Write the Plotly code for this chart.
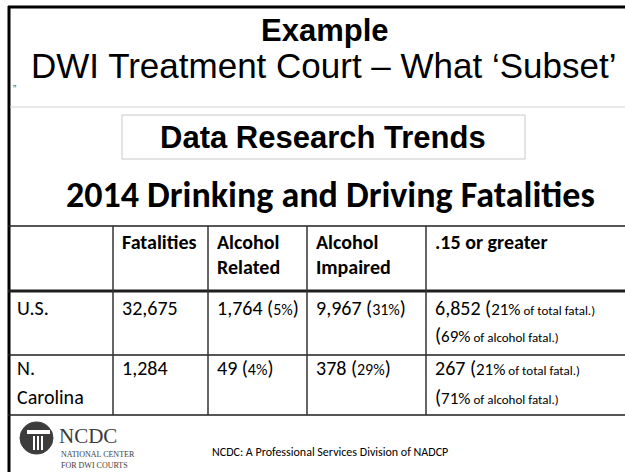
import plotly.graph_objects as go

# ---------------- data ----------------
title_main = "Example"
title_sub = "DWI Treatment Court \u2013 What \u2018Subset\u2019"
box_title = "Data Research Trends"
table_title = "2014 Drinking and Driving Fatalities"
footer_text = "NCDC: A Professional Services Division of NADCP"

header_labels = [[""], ["Fatalities"], ["Alcohol", "Related"], ["Alcohol", "Impaired"], [".15 or greater"]]
regions = [["U.S."], ["N.", "Carolina"]]
fatalities = [32675, 1284]
alcohol_related = [1764, 49]
alcohol_related_pct = [5, 4]
alcohol_impaired = [9967, 378]
alcohol_impaired_pct = [31, 29]
bac15 = [6852, 267]
bac15_pct_total = [21, 21]
bac15_pct_alcohol = [69, 71]

# ---------------- layout constants ----------------
W, H = 625, 472
CAL = "Carlito, Calibri, Lato, sans-serif"
ARI = "Liberation Sans, Arial, sans-serif"
SER = "Liberation Serif, Times New Roman, serif"
BASE = 20      # table body font size
PCT = 16       # percentage size
SMALL = 13     # "of total fatal." size

col_edges = [8, 113, 208, 307, 426, 625]
row_edges = [226, 291, 355, 415]
row_text = [(242, 25), (308, 27), (368, 29)]   # (first line centre, line gap) per table row
row_line_w = [1.5, 3, 1.5, 1.5]


def px(x):
    return x / W


def py(y):
    return 1 - y / H


def sized(t, size):
    return f"<span style='font-size:{size}px'>{t}</span>"


# ---------------- cell texts built from data ----------------
body_rows = []
for i in range(len(fatalities)):
    body_rows.append([
        regions[i],
        [f"{fatalities[i]:,}"],
        [f"{alcohol_related[i]:,} ({sized(str(alcohol_related_pct[i]) + '%', PCT)})"],
        [f"{alcohol_impaired[i]:,} ({sized(str(alcohol_impaired_pct[i]) + '%', PCT)})"],
        [f"{bac15[i]:,} ({sized(str(bac15_pct_total[i]) + '%', PCT + 1)}{sized(' of total fatal.)', SMALL)}",
         f"({sized(str(bac15_pct_alcohol[i]) + '%', PCT + 1)}{sized(' of alcohol fatal.)', SMALL)}"],
    ])
table_rows = [[[f"<b>{t}</b>" for t in cell if t] for cell in header_labels]] + body_rows

shapes = []
annotations = []

# slide frame
shapes.append(dict(type="line", x0=px(8), x1=1, y0=py(7), y1=py(7), line=dict(color="black", width=3)))
shapes.append(dict(type="line", x0=px(9), x1=px(9), y0=py(6), y1=0, line=dict(color="black", width=3)))
# thin separator under title
shapes.append(dict(type="line", x0=px(10), x1=1, y0=py(107), y1=py(107), line=dict(color="#d4d4d4", width=1)))
# box around "Data Research Trends"
shapes.append(dict(type="rect", x0=px(122), x1=px(525), y0=py(115), y1=py(159),
                   line=dict(color="#c8c8c8", width=1), fillcolor="rgba(0,0,0,0)"))

# table grid
for y, lw in zip(row_edges, row_line_w):
    shapes.append(dict(type="line", x0=px(col_edges[0]), x1=1, y0=py(y), y1=py(y),
                       line=dict(color="#1e1e1e", width=lw)))
for x in col_edges[1:-1]:
    shapes.append(dict(type="line", x0=px(x), x1=px(x), y0=py(row_edges[0]), y1=py(row_edges[-1]),
                       line=dict(color="#333333", width=1.5)))

# table texts
for r, row in enumerate(table_rows):
    y0, gap = row_text[r]
    for c, lines in enumerate(row):
        for k, line in enumerate(lines):
            annotations.append(dict(text=line, x=px(col_edges[c] + 7), y=py(y0 + k * gap),
                                    xanchor="left", yanchor="middle",
                                    font=dict(family=CAL, size=BASE, color="black")))

# logo emblem
shapes.append(dict(type="circle", x0=px(20), x1=px(53), y0=py(422), y1=py(454),
                   line=dict(color="#3c3c3c", width=1), fillcolor="#3c3c3c"))
shapes.append(dict(type="rect", x0=px(27), x1=px(50), y0=py(430), y1=py(434), line=dict(width=0), fillcolor="white"))
for xx in (33, 37, 41):
    shapes.append(dict(type="rect", x0=px(xx), x1=px(xx + 2), y0=py(436), y1=py(450),
                       line=dict(width=0), fillcolor="white"))
for s in shapes:
    s.update(xref="paper", yref="paper")

annotations += [
    dict(text=f"<b>{title_main}</b>", x=px(325), y=py(30), font=dict(family=ARI, size=31, color="black")),
    dict(text=title_sub, x=px(323), y=py(66), font=dict(family=ARI, size=35, color="black")),
    dict(text="\u201d", x=px(14), y=py(89), font=dict(family=ARI, size=10, color="#555")),
    dict(text=f"<b>{box_title}</b>", x=px(323), y=py(137), font=dict(family=ARI, size=31, color="black")),
    dict(text=f"<b>{table_title}</b>", x=px(330), y=py(195), font=dict(family=CAL, size=36, color="black")),
    dict(text="NCDC", x=px(57), y=py(436), xanchor="left", font=dict(family=SER, size=21, color="#3c3c3c")),
    dict(text="NATIONAL CENTER", x=px(59), y=py(454), xanchor="left", font=dict(family=SER, size=8, color="#3c3c3c")),
    dict(text="FOR DWI COURTS", x=px(59), y=py(465), xanchor="left", font=dict(family=SER, size=8, color="#3c3c3c")),
    dict(text=footer_text, x=px(330), y=py(452), font=dict(family=CAL, size=12, color="black")),
]
for a in annotations:
    a.update(xref="paper", yref="paper", showarrow=False)
    a.setdefault("xanchor", "center")
    a.setdefault("yanchor", "middle")

fig = go.Figure()
fig.update_layout(
    width=W, height=H,
    margin=dict(l=0, r=0, t=0, b=0),
    paper_bgcolor="white", plot_bgcolor="white",
    xaxis=dict(visible=False), yaxis=dict(visible=False),
    shapes=shapes, annotations=annotations,
    showlegend=False,
)

fig.write_html(
    "out.html",
    config={"displayModeBar": False, "staticPlot": True},
    post_script=(
        "document.documentElement.style.overflow='hidden';"
        "document.body.style.overflow='hidden';"
        "document.body.style.margin='0';"
        "var g=document.getElementById('{plot_id}');"
        "g.style.position='fixed';g.style.left='0px';g.style.top='0px';"
        "window.scrollTo(0,0);"
    ),
)
